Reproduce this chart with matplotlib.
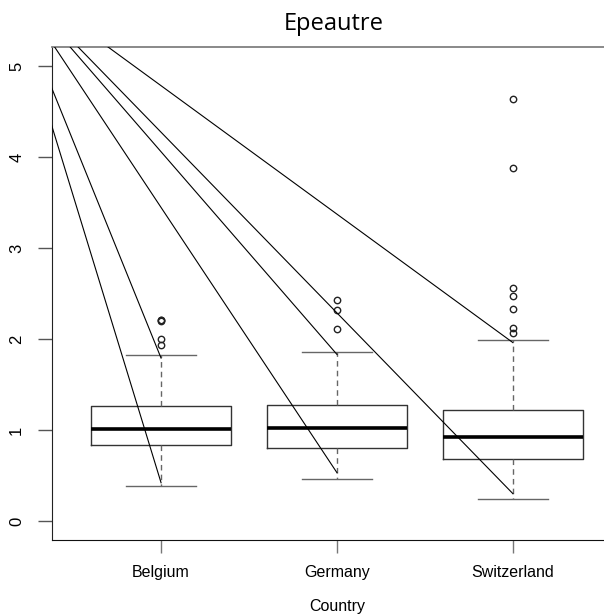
import matplotlib
matplotlib.use("Agg")
import matplotlib.pyplot as plt

# ---- data ----
countries = ["Belgium", "Germany", "Switzerland"]
q1 = [0.83, 0.80, 0.68]
med = [1.01, 1.02, 0.92]
q3 = [1.26, 1.28, 1.22]
whislo = [0.38, 0.46, 0.24]
whishi = [1.82, 1.86, 1.99]
fliers = [
    [2.21, 2.21, 2.20, 2.00, 1.93],
    [2.43, 2.32, 2.11],
    [4.64, 3.88, 2.56, 2.47, 2.33, 2.12, 2.07],
]
# diagonal segments: common origin, end points per group
line_origin = (0.11, 6.04)
line_end_low = [0.42, 0.53, 0.30]
line_end_high = [1.79, 1.83, 1.96]
yticks = [0, 1, 2, 3, 4, 5]

W, H = 604, 615
fig = plt.figure(figsize=(W / 100, H / 100), dpi=100)
ax = fig.add_axes([52 / W, (H - 540) / H, 570 / W, 493 / H])

stats = []
for i in range(3):
    stats.append(dict(med=med[i], q1=q1[i], q3=q3[i], whislo=whislo[i],
                      whishi=whishi[i], fliers=fliers[i], label=countries[i]))

pos = [1, 2, 3]
ax.bxp(stats, positions=pos, widths=0.8, capwidths=0.4, patch_artist=False,
       boxprops=dict(color="#333333", linewidth=1.0),
       medianprops=dict(color="black", linewidth=2.6, solid_capstyle="butt"),
       whiskerprops=dict(color="#666666", linewidth=1.0, linestyle=(0, (4, 3))),
       capprops=dict(color="#666666", linewidth=1.0),
       flierprops=dict(marker="o", markersize=4.6, markerfacecolor="none",
                       markeredgecolor="#222222", markeredgewidth=1.0))

for i, p in enumerate(pos):
    for yend in (line_end_low[i], line_end_high[i]):
        ax.plot([line_origin[0], p], [line_origin[1], yend], color="black",
                linewidth=0.8, zorder=5)

ax.set_xlim(0.38, 3.62)
ax.set_ylim(-0.209, 5.209)

ax.spines["right"].set_visible(False)
ax.spines["top"].set_color("#808080")
ax.spines["top"].set_linewidth(1.3)
ax.spines["left"].set_color("#222222")
ax.spines["bottom"].set_color("#111111")

ax.set_yticks(yticks)
ax.set_yticklabels([str(v) for v in yticks], rotation=90, va="center",
                   family="Liberation Sans", fontsize=12)
ax.set_xticks(pos)
ax.set_xticklabels(countries, family="Liberation Sans", fontsize=11.5)
ax.tick_params(axis="y", length=10, width=1, color="#555555", pad=10)
ax.tick_params(axis="x", length=9, width=1, color="#777777", pad=9)

fig.text(334 / W, 1 - 30 / H, "Epeautre", ha="center", va="baseline",
         fontsize=17, family="Open Sans")
fig.text(337 / W, 1 - 611 / H, "Country", ha="center", va="baseline",
         fontsize=11.5, family="Liberation Sans")

fig.savefig("out.png", dpi=100)
